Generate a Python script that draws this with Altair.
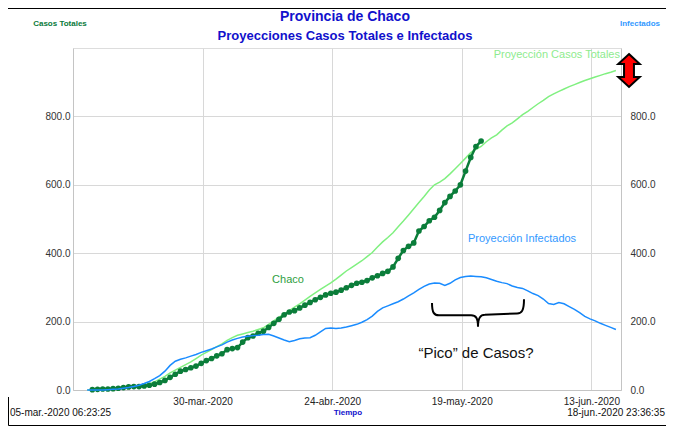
import altair as alt
import pandas as pd

# ---------------- data ----------------
chaco_first_day = "2020-03-09"
chaco_cases = [1, 2, 3, 3, 4, 5, 7, 9, 10, 10, 12, 14, 17, 22, 28, 37, 46, 55, 60, 65,
               70, 78, 86, 92, 100, 106, 118, 121, 124, 140, 153, 158, 166, 172, 183, 195,
               207, 220, 228, 232, 240, 248, 256, 264, 271, 278, 283, 286, 292, 299, 306,
               312, 315, 320, 328, 334, 341, 347, 360, 385, 408, 420, 430, 465, 478, 495,
               505, 525, 548, 566, 582, 600, 640, 680, 712, 728]

proj_first_day = "2020-03-08"
proj_total = [0, 1, 2, 2, 3, 4, 5, 7, 8, 10, 13, 15, 18, 24, 32, 40, 50, 58, 66, 74,
              82, 92, 102, 110, 118, 127, 135, 145, 153, 160, 164, 168, 172, 177, 182, 192,
              202, 213, 222, 232, 242, 252, 263, 274, 284, 294, 304, 313, 324, 336, 348,
              358, 368, 378, 390, 402, 418, 433, 446, 460, 477, 494, 512, 530, 548, 566,
              585, 600, 608, 618, 632, 647, 662, 678, 694, 704, 712, 726, 737, 746, 760,
              772, 781, 793, 805, 815, 826, 837, 847, 858, 866, 873, 880, 887, 893, 899,
              905, 910, 915, 920, 925, 929, 934]
proj_infected = [0, 0, 0, 0, 1, 2, 3, 5, 7, 10, 14, 19, 25, 33, 42, 55, 72, 84, 90, 94,
                 99, 104, 110, 115, 120, 126, 132, 140, 146, 151, 155, 157, 159, 160, 162,
                 163, 158, 152, 146, 141, 145, 150, 152, 153, 160, 170, 180, 181, 180, 181,
                 184, 188, 192, 198, 206, 216, 230, 240, 246, 252, 258, 266, 275, 284, 294,
                 303, 310, 313, 312, 306, 312, 322, 329, 332, 333, 332, 331, 328, 323, 318,
                 314, 311, 304, 300, 297, 290, 282, 276, 266, 253, 250, 256, 252, 244, 236,
                 226, 215, 208, 202, 195, 189, 183, 177]

y_ticks = [0, 200, 400, 600, 800]
month_abbr = ["ene", "feb", "mar", "abr", "may", "jun", "jul", "ago", "sep", "oct", "nov", "dic"]
x_tick_days = [(3, 30), (4, 24), (5, 19), (6, 13)]

# ---------------- tables ----------------
def day_strings(first, n):
    return [d.strftime("%Y-%m-%dT00:00:00Z") for d in pd.date_range(first, periods=n, freq="D")]

df_chaco = pd.DataFrame({"date": day_strings(chaco_first_day, len(chaco_cases)), "cases": chaco_cases})
df_proj = pd.DataFrame({"date": day_strings(proj_first_day, len(proj_total)),
                        "total": proj_total, "infected": proj_infected})
one = pd.DataFrame({"k": [0]})

FONT = "Liberation Sans"
GRID = "#d8d8d8"
BORDER = "#c4c4c4"

x_scale = alt.Scale(
    type="utc",
    domain=[alt.DateTime(year=2020, month=3, date=5, hours=6, minutes=23, seconds=25, utc=True),
            alt.DateTime(year=2020, month=6, date=18, hours=23, minutes=36, seconds=35, utc=True)],
)
months_js = "[" + ",".join("'" + m + "'" for m in month_abbr) + "]"
x_axis = alt.Axis(
    values=[alt.DateTime(year=2020, month=m, date=d, hours=6, minutes=23, seconds=25, utc=True)
            for m, d in x_tick_days],
    labelExpr="utcFormat(datum.value, '%d') + '-' + " + months_js +
              "[utcmonth(datum.value)] + '.-' + utcFormat(datum.value, '%Y')",
    title=None, grid=True, gridColor=GRID, ticks=False, labelPadding=6,
    labelFontSize=10, labelColor="#222222", labelFont=FONT, domainColor=BORDER,
    labelOverlap=False,
)
x_enc = alt.X("date:T", scale=x_scale, axis=x_axis)
y_scale = alt.Scale(domain=[0, 1000], nice=False, zero=True)

left_axis = alt.Axis(values=y_ticks, format=".1f", title=None, ticks=False, labelPadding=3,
                     labelFontSize=10, labelColor="#333333", labelFont=FONT,
                     gridColor=GRID, domainColor=BORDER, grid=True)
right_axis = alt.Axis(values=y_ticks, format=".1f", title=None, ticks=False, labelPadding=9,
                      labelFontSize=10, labelColor="#333333", labelFont=FONT,
                      grid=False, orient="right", domainColor=BORDER)

LIGHT_GREEN = "#80F080"
DARK_GREEN = "#0B7D3A"
BLUE = "#1A8CFF"

proj_total_line = alt.Chart(df_proj).mark_line(color=LIGHT_GREEN, strokeWidth=1.5).encode(
    x=x_enc, y=alt.Y("total:Q", scale=y_scale, axis=left_axis))
chaco_line = alt.Chart(df_chaco).mark_line(color=DARK_GREEN, strokeWidth=2.5).encode(
    x=x_enc, y=alt.Y("cases:Q", scale=y_scale, axis=None))
chaco_pts = alt.Chart(df_chaco).mark_point(color=DARK_GREEN, filled=True, size=32, opacity=1).encode(
    x=x_enc, y=alt.Y("cases:Q", scale=y_scale, axis=None))
infected_line = alt.Chart(df_proj).mark_line(color=BLUE, strokeWidth=1.5).encode(
    x=x_enc, y=alt.Y("infected:Q", scale=y_scale, axis=right_axis))


def label(text, x, y, size, color, weight="normal", align="center"):
    return alt.Chart(one).mark_text(
        text=text, fontSize=size, color=color, fontWeight=weight, align=align,
        baseline="middle", font=FONT).encode(x=alt.value(x), y=alt.value(y))


texts = [
    label("Provincia de Chaco", 272, -31, 14, "#1111CC", "bold"),
    label("Proyecciones Casos Totales e Infectados", 272, -12, 13, "#1111CC", "bold"),
    label("Casos Totales", -13, -24, 8, "#0A7A3A", "bold"),
    label("Infectados", 567, -24, 8, "#3399FF", "bold"),
    label("Proyección Casos Totales", 547, 7, 11, "#8EEB8E", align="right"),
    label("Chaco", 215, 232, 11, "#2E9E3E"),
    label("Proyección Infectados", 449, 191, 11, "#3399FF"),
    label("\u201cPico\u201d de Casos?", 403, 305, 15, "#111111"),
    label("05-mar.-2020 06:23:25", -63, 365, 10, "#111111", align="left"),
    label("18-jun.-2020 23:36:35", 592, 365, 10, "#111111", align="right"),
    label("Tiempo", 275, 365, 8, "#1111CC", "bold"),
]

brace_path = ("M -1 -0.22 C -1 0.0 -0.95 0.05 -0.85 0.05 L -0.15 0.05 C -0.05 0.05 0 0.1 0 0.3 "
              "M 0 0.3 C 0 0.1 0.05 0.04 0.15 0.04 L 0.85 0.01 C 0.95 0.01 1 -0.05 1 -0.3")
arrow_path = ("M 0 -1 L 0.65 -0.4 L 0.3 -0.4 L 0.3 0.4 L 0.65 0.4 L 0 1 "
              "L -0.65 0.4 L -0.3 0.4 L -0.3 -0.4 L -0.65 -0.4 Z")

brace = alt.Chart(one).mark_point(shape=brace_path, size=8464, filled=False, color="black",
                                  strokeWidth=2, opacity=1).encode(x=alt.value(405), y=alt.value(265))
arrow = alt.Chart(one).mark_point(shape=arrow_path, size=1089, filled=True, fill="#FF0000",
                                  stroke="black", strokeWidth=2, opacity=1).encode(
    x=alt.value(556), y=alt.value(22.5))

frame_top = alt.Chart(one).mark_rule(color="black", strokeWidth=1).encode(
    x=alt.value(-65), x2=alt.value(593), y=alt.value(-39.5))
frame_bottom = alt.Chart(one).mark_rule(color="black", strokeWidth=1).encode(
    x=alt.value(-64.5), x2=alt.value(593), y=alt.value(377.5))
frame_left = alt.Chart(one).mark_rule(color="black", strokeWidth=1).encode(
    x=alt.value(-64.5), y=alt.value(349), y2=alt.value(377.5))

chart = alt.layer(
    proj_total_line, chaco_line, chaco_pts, infected_line,
    brace, arrow, frame_top, frame_bottom, frame_left, *texts
).resolve_scale(y="independent").properties(
    width=548, height=342,
    autosize=alt.AutoSizeParams(type="none"),
    padding={"left": 65, "top": 40, "right": 45, "bottom": 37},
).configure_view(stroke=BORDER).configure(background="white")

chart.save("out.html", embed_options={"renderer": "svg", "actions": False})
